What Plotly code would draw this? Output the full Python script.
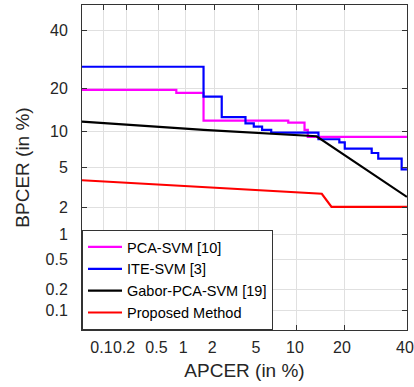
import plotly.graph_objects as go
from statistics import NormalDist

# ---- data (percent values) ----
tick_vals = [0.1, 0.2, 0.5, 1, 2, 5, 10, 20, 40]
tick_text = ["0.1", "0.2", "0.5", "1", "2", "5", "10", "20", "40"]

pca_apcer = [0.05, 0.8, 1.56, 8.65, 11.3, 11.9, 40]
pca_bpcer = [19.5, 18.7, 12.1, 11.7, 10.3, 9.1, 9.1]

ite_apcer = [0.05, 1.56, 2.36, 3.9, 4.6, 5.4, 6.4, 14.0, 18.8, 20.2, 28.0, 30.1, 38.1, 40]
ite_bpcer = [26.6, 17.7, 12.8, 11.55, 10.9, 10.3, 9.8, 8.7, 8.2, 7.3, 6.7, 6.0, 4.8, 4.8]

gabor_apcer = [0.05, 1.56, 13.6, 40]
gabor_bpcer = [11.9, 10.3, 9.2, 2.6]

prop_apcer = [0.05, 14.7, 16.9, 40]
prop_bpcer = [3.8, 2.8, 2.05, 2.05]

x_lim = [0.05, 40.02]
y_lim = [0.05, 50]

nd = NormalDist()


def probit(vals):
    return [nd.inv_cdf(v / 100.0) for v in vals]


fig = go.Figure()
series = [
    ("PCA-SVM [10]", pca_apcer, pca_bpcer, "#FF00FF", "hv"),
    ("ITE-SVM [3]", ite_apcer, ite_bpcer, "#0000FF", "hv"),
    ("Gabor-PCA-SVM [19]", gabor_apcer, gabor_bpcer, "#000000", "linear"),
    ("Proposed Method", prop_apcer, prop_bpcer, "#FF0000", "linear"),
]
for name, xs, ys, col, shape in series:
    fig.add_trace(go.Scatter(
        x=probit(xs), y=probit(ys), mode="lines", name=name,
        line=dict(color=col, width=2.2, shape=shape),
    ))

axis_common = dict(
    tickvals=probit(tick_vals), ticktext=tick_text, tickangle=0,
    showgrid=True, gridcolor="#e0e0e0", gridwidth=1,
    zeroline=False, showline=True, linecolor="#333333", linewidth=1,
    mirror="allticks", ticks="inside", ticklen=5, tickcolor="#333333",
    tickfont=dict(size=16, color="#262626"), automargin=False,
    ticklabeloverflow="allow",
)

fig.update_xaxes(range=probit(x_lim),
                 title=dict(text="APCER (in %)", font=dict(size=19, color="#262626"), standoff=8),
                 ticklabelstandoff=3, ticklabelshift=-2, **axis_common)
fig.update_yaxes(range=probit(y_lim),
                 title=dict(text="BPCER (in %)", font=dict(size=19, color="#262626"), standoff=10),
                 ticklabelstandoff=10, **axis_common)

fig.update_layout(
    width=414, height=387,
    margin=dict(l=82, r=7, t=5, b=57),
    paper_bgcolor="white", plot_bgcolor="white",
    font=dict(family="Liberation Sans, Arial, sans-serif", color="#262626"),
    legend=dict(x=0, y=0, xanchor="left", yanchor="bottom",
                bgcolor="white", bordercolor="#333333", borderwidth=1,
                font=dict(size=14.5, color="#000000"), itemwidth=34,
                tracegroupgap=0),
    showlegend=True,
)

fig.write_html("out.html", config={"displayModeBar": False},
               post_script="document.body.style.margin='0';document.body.style.overflow='hidden';")
